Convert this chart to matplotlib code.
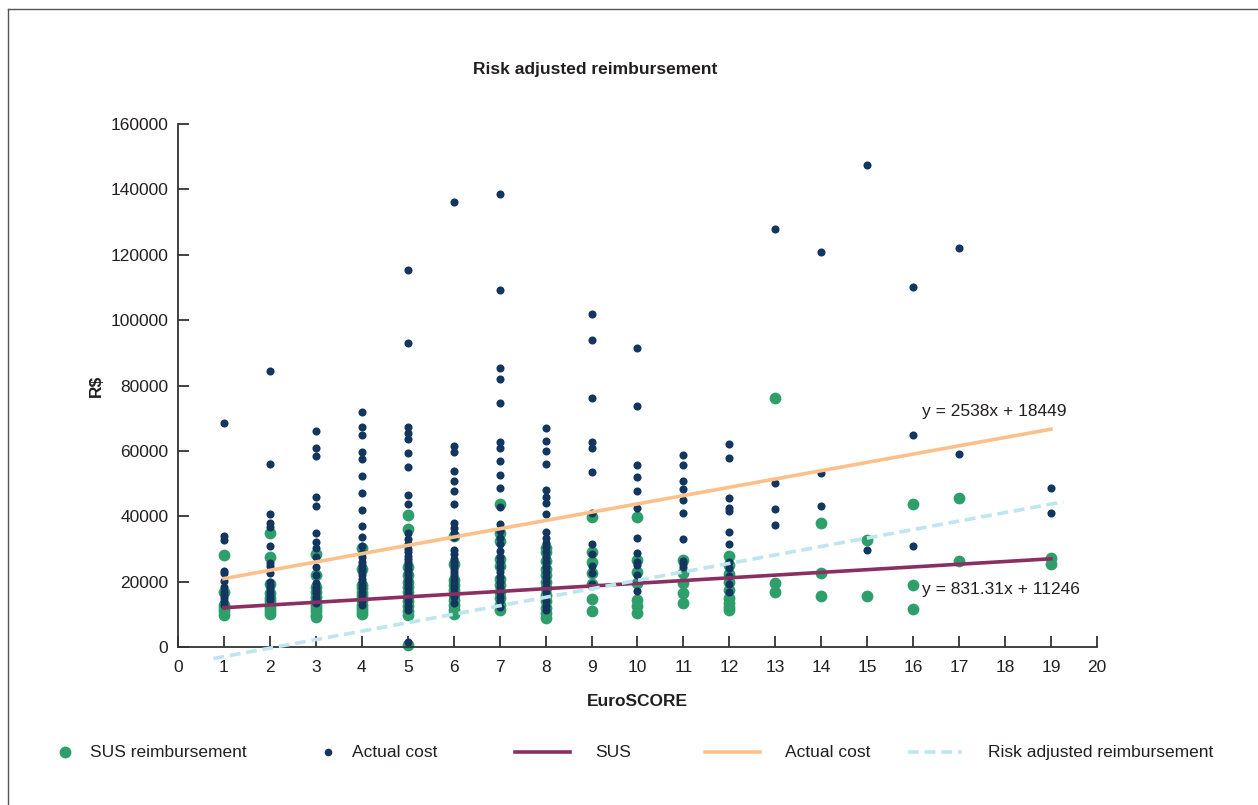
import numpy as np
import matplotlib.pyplot as plt
from matplotlib.lines import Line2D

plt.rcParams['font.family'] = ['Liberation Sans', 'DejaVu Sans']

# actual cost per EuroSCORE (R$ thousands)
actual = {
    1: [68.6, 34.0, 32.7, 23.3, 22.6, 20.2, 18.4, 17.0, 16.0, 15.0, 14.0, 13.0],
    2: [84.5, 56.0, 40.7, 38.0, 36.7, 31.0, 25.7, 24.8, 22.6, 20.0, 19.0, 18.0, 17.0, 16.0, 15.0, 14.4],
    3: [66.0, 60.9, 58.5, 46.0, 43.2, 34.9, 32.1, 30.3, 27.5, 24.5, 22.0, 19.6, 18.5, 17.5, 16.5, 15.5, 14.5, 13.5],
    4: [71.9, 67.4, 64.9, 59.8, 57.7, 52.4, 47.2, 41.9, 37.0, 33.8, 31.0, 28.8, 27.5, 26.0, 25.0, 24.0,
        23.0, 22.0, 21.0, 20.0, 19.0, 18.0, 17.0, 16.0, 15.0, 14.0, 13.0],
    5: [115.4, 92.9, 67.4, 65.6, 63.6, 59.5, 55.2, 46.5, 43.8, 34.9, 33.0, 31.5, 30.0, 29.0, 28.0, 27.0,
        26.0, 25.0, 24.0, 23.0, 22.0, 21.0, 20.0, 19.0, 18.0, 17.0, 16.0, 15.0, 14.0, 12.5, 11.3, 1.6],
    6: [136.0, 61.6, 59.8, 53.9, 50.8, 47.7, 43.8, 37.9, 36.5, 35.0, 33.7, 29.7, 28.5, 27.0, 26.0, 25.0,
        24.0, 23.0, 22.0, 21.0, 20.0, 19.0, 18.0, 17.0, 16.0, 15.3, 13.6],
    7: [138.6, 109.2, 85.5, 82.1, 74.8, 62.8, 60.8, 56.9, 52.6, 48.6, 43.0, 37.6, 35.5, 33.5, 31.5, 29.5,
        27.5, 26.0, 24.5, 23.0, 21.5, 20.0, 18.5, 17.0, 15.5, 14.0, 12.3],
    8: [67.0, 63.0, 60.0, 56.0, 48.0, 46.0, 44.2, 40.6, 35.3, 33.5, 32.0, 30.5, 29.0, 27.5, 26.0, 24.5,
        23.0, 21.5, 20.0, 18.5, 17.0, 15.5, 14.0, 12.5, 11.3],
    9: [101.8, 93.8, 76.2, 62.8, 60.8, 53.6, 41.0, 31.5, 28.5, 24.9, 22.6, 19.3],
    10: [91.5, 73.7, 55.7, 52.0, 47.7, 42.5, 33.5, 28.9, 26.1, 25.0, 22.0, 17.2],
    11: [58.8, 55.6, 50.8, 48.4, 45.0, 41.1, 33.0, 26.3, 25.4, 24.5],
    12: [62.1, 57.8, 45.6, 42.6, 41.6, 35.3, 31.7, 26.1, 24.1, 21.7, 19.3, 16.9],
    13: [128.0, 50.1, 42.4, 37.5],
    14: [121.0, 53.3, 43.1],
    15: [147.5, 29.6],
    16: [110.0, 64.8, 30.9],
    17: [122.0, 59.1],
    19: [48.6, 41.1],
}

# SUS reimbursement per EuroSCORE (R$ thousands)
sus = {
    1: [28.3, 16.8, 13.0, 12.0, 11.0, 10.0],
    2: [35.0, 27.5, 19.3, 16.5, 15.0, 14.0, 13.0, 12.0, 11.0, 10.2],
    3: [28.5, 22.0, 18.4, 17.0, 15.5, 14.0, 13.0, 12.0, 11.0, 10.0, 9.3],
    4: [30.3, 24.0, 19.0, 18.0, 17.0, 16.0, 15.0, 14.0, 13.0, 12.0, 11.0, 10.2],
    5: [40.4, 36.1, 24.5, 22.0, 20.0, 18.5, 17.0, 15.5, 14.0, 12.5, 11.0, 10.0, 0.6],
    6: [34.0, 25.5, 20.5, 19.0, 17.5, 16.0, 14.5, 13.0, 11.5, 10.2],
    7: [43.8, 35.0, 32.6, 27.0, 24.7, 21.0, 19.0, 17.0, 15.0, 13.0, 11.3],
    8: [30.3, 29.0, 26.5, 24.0, 22.0, 20.0, 18.0, 16.0, 14.0, 12.0, 10.4, 9.0],
    9: [39.9, 29.0, 26.0, 22.6, 19.3, 14.7, 11.0],
    10: [39.9, 26.6, 23.0, 19.6, 14.4, 12.5, 10.4],
    11: [26.6, 22.6, 19.6, 16.5, 13.6],
    12: [27.8, 25.0, 22.5, 20.0, 17.5, 15.0, 13.5, 12.3, 11.3],
    13: [76.1, 19.5, 16.9],
    14: [38.0, 22.7, 15.6],
    15: [32.9, 15.6],
    16: [43.8, 19.0, 11.6],
    17: [45.5, 26.4],
    19: [27.3, 25.6],
}

# trendlines (slope, intercept, x range)
sus_fit = (831.31, 11246, 1, 19)
actual_fit = (2538, 18449, 1, 19)
risk_fit = (2590, -5450, 0.77, 19.27)

GREEN = '#2e9e6b'
NAVY = '#13365f'
PURPLE = '#8b2e62'
ORANGE = '#fdc08a'
LIGHTBLUE = '#bfe5ee'
TXT = '#231f20'
FS = 12.5

fig = plt.figure(figsize=(12.58, 8.05), dpi=100)
ax = fig.add_axes([0.1415, 0.196, 0.7305, 0.65])

sx = [k for k, v in sus.items() for _ in v]
sy = [y * 1000 for v in sus.values() for y in v]
ax.scatter(sx, sy, s=72, color=GREEN, linewidths=0, zorder=2, clip_on=False)

axx = [k for k, v in actual.items() for _ in v]
axy = [y * 1000 for v in actual.values() for y in v]
ax.scatter(axx, axy, s=34, color=NAVY, linewidths=0, zorder=3, clip_on=False)

for (m, b, x0, x1), col, ls in [(sus_fit, PURPLE, '-'), (actual_fit, ORANGE, '-'), (risk_fit, LIGHTBLUE, '--')]:
    xs = np.array([x0, x1])
    ax.plot(xs, m * xs + b, color=col, lw=2.6, ls=ls, zorder=4, clip_on=False,
            dashes=(3, 1.6) if ls == '--' else (None, None))

ax.set_xlim(0, 20)
ax.set_ylim(0, 160000)
ax.set_xticks(range(0, 21))
ax.set_yticks(range(0, 160001, 20000))
for s in ['top', 'right']:
    ax.spines[s].set_visible(False)
for s in ['left', 'bottom']:
    ax.spines[s].set_color('#333333')
    ax.spines[s].set_linewidth(1.3)
ax.tick_params(direction='in', length=8, width=1.3, color='#333333', labelsize=FS, labelcolor=TXT, pad=7)
ax.tick_params(axis='x', pad=9)

ax.set_xlabel('EuroSCORE', fontsize=FS, fontweight='bold', color=TXT, labelpad=14)
ax.set_ylabel('R$', fontsize=FS, fontweight='bold', color=TXT, labelpad=5)
ax.set_title('Risk adjusted reimbursement', fontsize=FS, fontweight='bold', color=TXT, pad=36, x=0.454)

ax.text(16.2, 72000, 'y = 2538x + 18449', fontsize=FS, color=TXT, va='center')
ax.text(16.2, 17700, 'y = 831.31x + 11246', fontsize=FS, color=TXT, va='center')

# legend row drawn in figure pixels
W, H = 1258, 805
ly = 1 - 752 / H
leg = [
    ('marker', GREEN, 8.5, 65, 90, 'SUS reimbursement'),
    ('marker', NAVY, 5.5, 328, 352, 'Actual cost'),
    ('line', PURPLE, None, (515, 570), 595, 'SUS'),
    ('line', ORANGE, None, (705, 760), 785, 'Actual cost'),
    ('dash', LIGHTBLUE, None, (908, 962), 988, 'Risk adjusted reimbursement'),
]
for kind, col, ms, hx, tx, lab in leg:
    if kind == 'marker':
        fig.add_artist(Line2D([hx / W], [ly], marker='o', ls='none', color=col, markersize=ms,
                              markeredgewidth=0, transform=fig.transFigure))
    else:
        fig.add_artist(Line2D([hx[0] / W, hx[1] / W], [ly, ly], color=col, lw=2.6,
                              dashes=(3, 1.6) if kind == 'dash' else (None, None),
                              transform=fig.transFigure))
    fig.text(tx / W, ly, lab, fontsize=FS, color=TXT, va='center', ha='left')

# frame around the figure
fig.add_artist(Line2D([0.0064, 0.0064], [0, 0.989], color='#555555', lw=1, transform=fig.transFigure))
fig.add_artist(Line2D([0.0064, 1], [0.989, 0.989], color='#555555', lw=1, transform=fig.transFigure))

fig.savefig('out.png', dpi=100)
